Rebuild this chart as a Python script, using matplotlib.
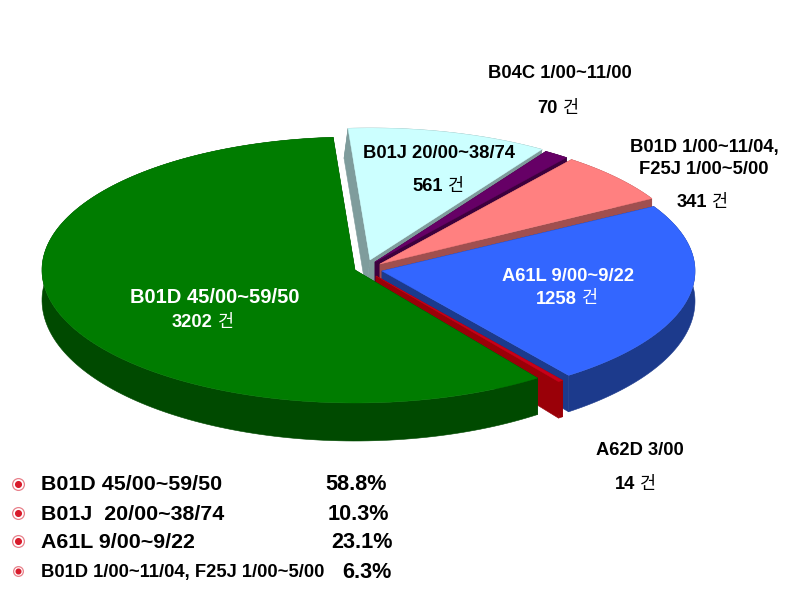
import numpy as np
import matplotlib
matplotlib.use("Agg")
import matplotlib.pyplot as plt
from matplotlib.patches import Polygon

slice_names = ["B01J 20/00~38/74", "B04C 1/00~11/00", "B01D 1/00~11/04, F25J 1/00~5/00",
               "A61L 9/00~9/22", "A62D 3/00", "B01D 45/00~59/50"]
slice_counts = [561, 70, 341, 1258, 14, 3202]
legend_names = ["B01D 45/00~59/50", "B01J  20/00~38/74", "A61L 9/00~9/22",
                "B01D 1/00~11/04, F25J 1/00~5/00"]
legend_pcts = ["58.8%", "10.3%", "23.1%", "6.3%"]

top_colors = ["#ccffff", "#660066", "#ff8080", "#3366ff", "#c8001a", "#007c00"]
wall_colors = ["#7f9c9c", "#3d003d", "#a04f4f", "#1c3a8c", "#9a0008", "#004a00"]
apex_x = [370, 375, 380, 382, 376, 355]
apex_y = [260, 262, 264, 271, 276, 270]
radius_x = [315, 313, 313, 313, 313, 313]
radius_y = [132, 132, 132, 130, 130, 133]
lean = [-4, 0, 0, 0, 0, 0]
START_ANGLE = 94.0

fig = plt.figure(figsize=(8.08, 6.06), dpi=100, facecolor="white")
ax = fig.add_axes([0, 0, 1, 1])
ax.set_xlim(0, 808)
ax.set_ylim(606, 0)
ax.axis("off")

total = sum(slice_counts)
angle = START_ANGLE
for i, count in enumerate(slice_counts):
    sweep = 360.0 * count / total
    t = np.radians(np.linspace(angle, angle - sweep, 160))
    angle -= sweep
    xs = apex_x[i] + radius_x[i] * np.cos(t)
    ys = apex_y[i] - radius_y[i] * np.sin(t)
    depth = 30 + 8 * np.clip(-np.sin(t), 0, 1)
    wall = np.r_[np.c_[xs, ys], np.c_[xs + lean[i], ys + depth][::-1]]
    ax.add_patch(Polygon(wall, closed=True, fc=wall_colors[i], ec=wall_colors[i], lw=0.4, zorder=i * 3 + 1))
    for x_end, y_end, d_end in ((xs[0], ys[0], depth[0]), (xs[-1], ys[-1], depth[-1])):
        cut = [(apex_x[i], apex_y[i]), (x_end, y_end), (x_end + lean[i], y_end + d_end),
               (apex_x[i] + lean[i], apex_y[i] + 30)]
        ax.add_patch(Polygon(cut, closed=True, fc=wall_colors[i], ec=wall_colors[i], lw=0.4, zorder=i * 3 + 1))
    top = np.r_[[[apex_x[i], apex_y[i]]], np.c_[xs, ys]]
    ax.add_patch(Polygon(top, closed=True, fc=top_colors[i], ec=top_colors[i], lw=0.3, zorder=i * 3 + 2))

LATIN = ["Liberation Sans", "Noto Sans CJK KR"]
KO = ["Noto Sans CJK KR", "Liberation Sans"]


def label(x, y, s, color="black", size=13.2):
    ax.text(x, y + 1.5, s, color=color, fontsize=size, fontweight="bold", family=LATIN,
            ha="center", va="center", zorder=40)


def count_label(x, y, n, color="black", size=13.2):
    ax.text(x, y + 1.5, str(n), color=color, fontsize=size, fontweight="bold", family=LATIN,
            ha="right", va="center", zorder=40)
    ax.text(x + 5, y + 0.5, "건", color=color, fontsize=12.5, family=KO,
            ha="left", va="center", zorder=40)


label(215, 296, slice_names[5], "white", 14.5)
count_label(213, 321, slice_counts[5], "white")
label(568, 275, slice_names[3], "white")
count_label(577, 298, slice_counts[3], "white")
label(439, 152, slice_names[0])
count_label(443, 185, slice_counts[0])
label(560, 72, slice_names[1])
count_label(558, 107, slice_counts[1])
first, second = slice_names[2].split(", ")
label(704, 146, first + ",")
label(704, 168, second)
count_label(707, 201, slice_counts[2])
label(640, 449, slice_names[4])
count_label(635, 483, slice_counts[4])

legend_y = [484, 513, 541, 571]
legend_size = [15.4, 15.4, 15.4, 13.2]
pct_x = [325, 328, 331, 342]
for i in range(4):
    ms = 8.5 if i < 3 else 7
    ax.plot([18], [legend_y[i]], "o", ms=ms, mfc="white", mec="#e8808a", mew=0.9, zorder=40)
    ax.plot([18], [legend_y[i]], "o", ms=ms * 0.48, mfc="#d81c2c", mec="#d81c2c", zorder=41)
    ax.text(41, legend_y[i] + 1, legend_names[i], fontsize=legend_size[i], fontweight="bold",
            family=LATIN, ha="left", va="center", zorder=40)
    ax.text(pct_x[i], legend_y[i] + 1, legend_pcts[i], fontsize=15.6, fontweight="bold",
            family=LATIN, ha="left", va="center", zorder=40)

fig.savefig("out.png", dpi=100, facecolor="white")
